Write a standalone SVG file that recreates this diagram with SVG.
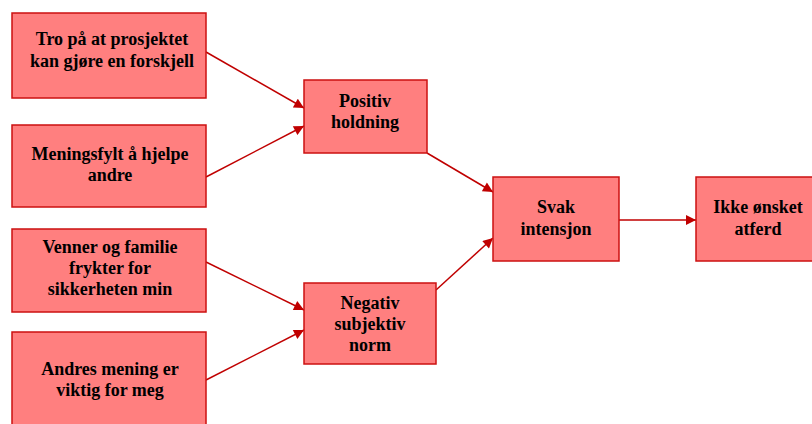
<svg xmlns="http://www.w3.org/2000/svg" width="812" height="424" viewBox="0 0 812 424">
<style>
.box{fill:#FF7F7F;stroke:#CC1010;stroke-width:1.5}
.t{font-family:"Liberation Serif","Times New Roman",serif;font-weight:bold;font-size:18px;fill:#000;text-anchor:middle}
.c{stroke:#C00000;stroke-width:1.5;fill:none;marker-end:url(#ah)}
</style>
<defs>
<marker id="ah" viewBox="0 0 10 10" refX="10" refY="5" markerWidth="12" markerHeight="10" markerUnits="userSpaceOnUse" orient="auto">
<path d="M0,0 L10,5 L0,10 z" fill="#C00000"/>
</marker>
</defs>
<rect width="812" height="424" fill="#fff"/>
<g id="connectors">
<line class="c" x1="206" y1="52" x2="304" y2="108"/>
<line class="c" x1="206" y1="177" x2="304" y2="126"/>
<line class="c" x1="206" y1="262" x2="304" y2="310"/>
<line class="c" x1="206" y1="380" x2="304" y2="330"/>
<line class="c" x1="427" y1="153" x2="493" y2="192"/>
<line class="c" x1="436" y1="290" x2="493" y2="238"/>
<line class="c" x1="619" y1="220" x2="696" y2="220"/>
</g>
<g id="n1"><rect class="box" x="12" y="13" width="194" height="85"/>
<text class="t" x="112" y="45">Tro på at prosjektet</text><text class="t" x="112" y="67">kan gjøre en forskjell</text></g>
<g id="n2"><rect class="box" x="12" y="125" width="194" height="82"/>
<text class="t" x="110" y="160">Meningsfylt å hjelpe</text><text class="t" x="110" y="181">andre</text></g>
<g id="n3"><rect class="box" x="12" y="229" width="194" height="83"/>
<text class="t" x="110" y="253">Venner og familie</text><text class="t" x="110" y="274">frykter for</text><text class="t" x="110" y="295">sikkerheten min</text></g>
<g id="n4"><rect class="box" x="12" y="332" width="194" height="100"/>
<text class="t" x="110" y="375">Andres mening er</text><text class="t" x="110" y="396">viktig for meg</text></g>
<g id="n5"><rect class="box" x="304" y="80" width="123" height="73"/>
<text class="t" x="365" y="107">Positiv</text><text class="t" x="365" y="128">holdning</text></g>
<g id="n6"><rect class="box" x="304" y="283" width="132" height="81"/>
<text class="t" x="370" y="309">Negativ</text><text class="t" x="370" y="330">subjektiv</text><text class="t" x="370" y="351">norm</text></g>
<g id="n7"><rect class="box" x="493" y="177" width="126" height="84"/>
<text class="t" x="556" y="213">Svak</text><text class="t" x="556" y="235">intensjon</text></g>
<g id="n8"><rect class="box" x="696" y="177" width="124" height="84"/>
<text class="t" x="758" y="213">Ikke ønsket</text><text class="t" x="758" y="235">atferd</text></g>
</svg>
